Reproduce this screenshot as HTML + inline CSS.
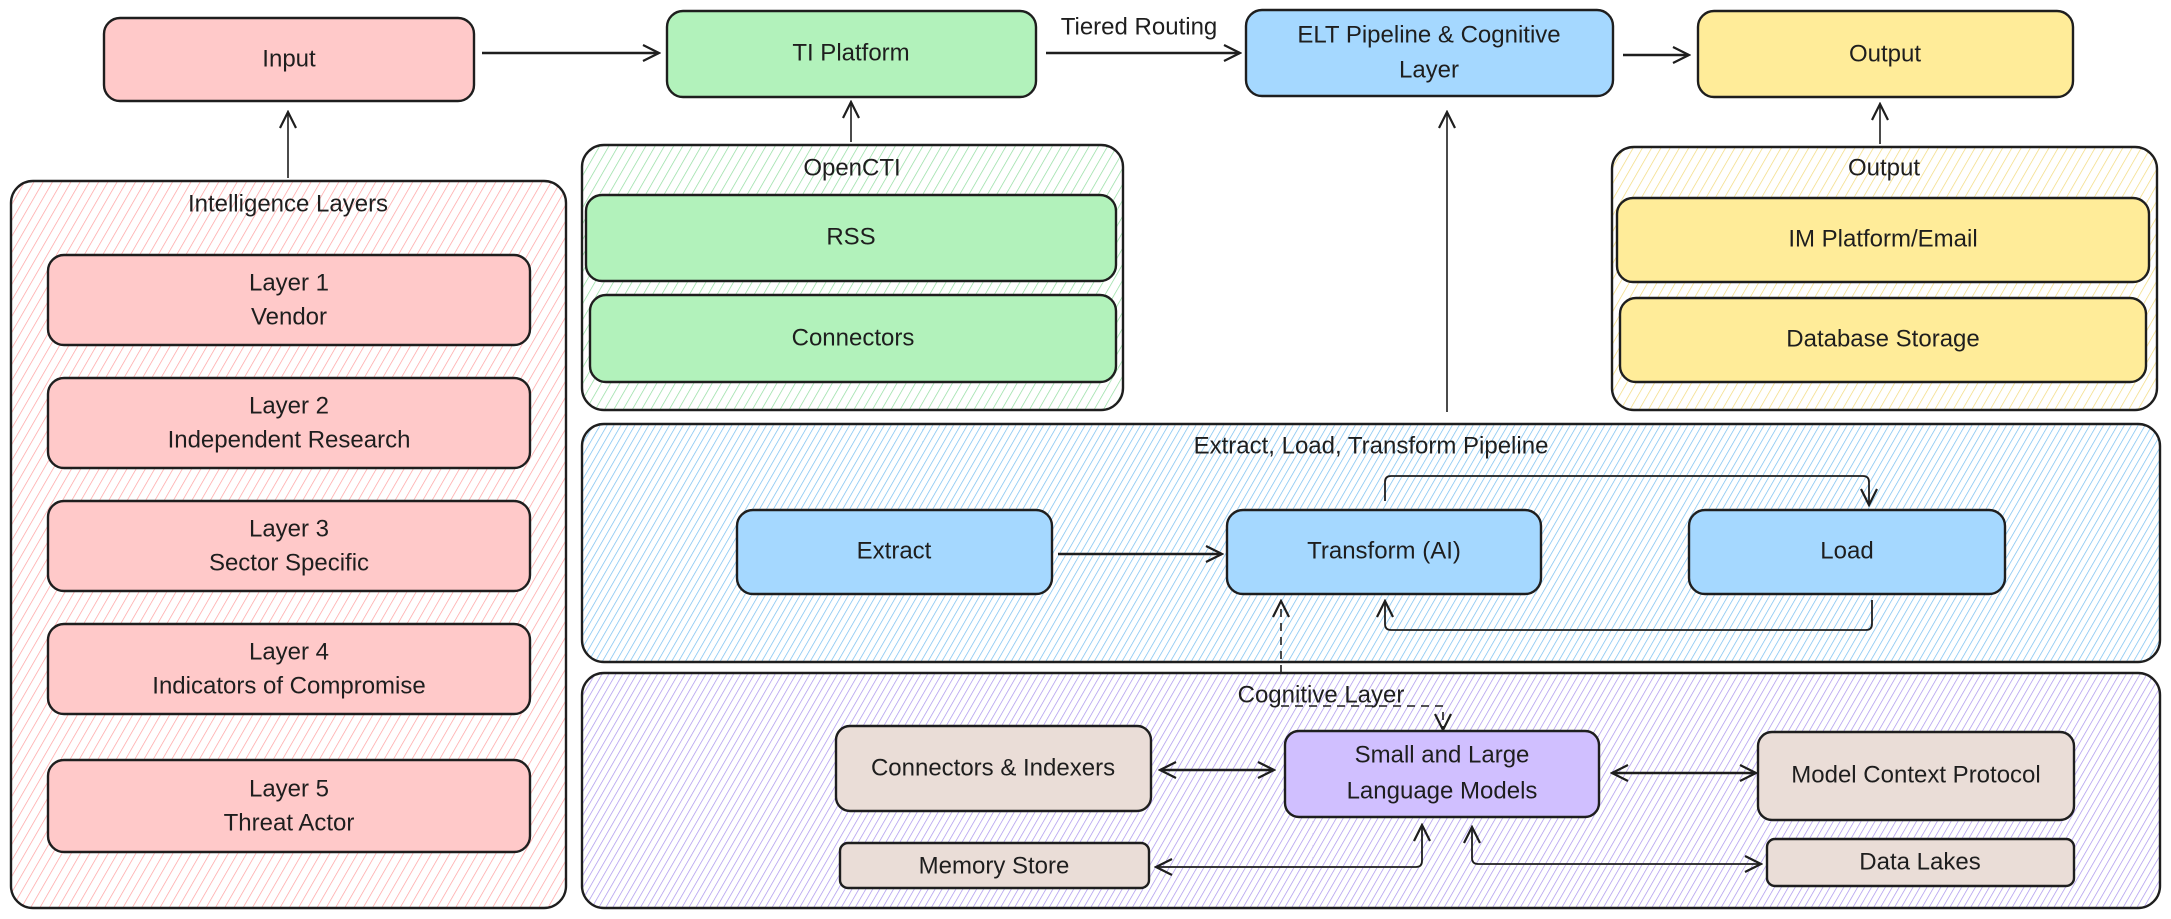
<!DOCTYPE html>
<html><head><meta charset="utf-8"><style>
html,body{margin:0;padding:0;background:#fff;}
svg{display:block;}
text{font-family:"Liberation Sans",sans-serif;font-size:24px;fill:#1e1e1e;text-anchor:middle;dominant-baseline:middle;}
</style></head><body>
<svg width="2171" height="919" viewBox="0 0 2171 919" xmlns="http://www.w3.org/2000/svg">
<defs>
<pattern id="hr" width="8" height="8" patternUnits="userSpaceOnUse" patternTransform="rotate(30)"><line x1="0" y1="0" x2="0" y2="8" stroke="#ff9f9f" stroke-width="1.4"/></pattern>
<pattern id="hg" width="8" height="8" patternUnits="userSpaceOnUse" patternTransform="rotate(30)"><line x1="0" y1="0" x2="0" y2="8" stroke="#8fdc9e" stroke-width="1.4"/></pattern>
<pattern id="hy" width="8" height="8" patternUnits="userSpaceOnUse" patternTransform="rotate(30)"><line x1="0" y1="0" x2="0" y2="8" stroke="#f2d97a" stroke-width="1.4"/></pattern>
<pattern id="hb" width="6" height="6" patternUnits="userSpaceOnUse" patternTransform="rotate(30)"><line x1="0" y1="0" x2="0" y2="6" stroke="#74bdf0" stroke-width="1.4"/></pattern>
<pattern id="hp" width="6" height="6" patternUnits="userSpaceOnUse" patternTransform="rotate(30)"><line x1="0" y1="0" x2="0" y2="6" stroke="#a892ec" stroke-width="1.4"/></pattern>
<marker id="a" viewBox="0 0 20 20" refX="18" refY="10" markerWidth="20" markerHeight="20" markerUnits="userSpaceOnUse" orient="auto-start-reverse"><path d="M2 2 L18 10 L2 18" fill="none" stroke="#1e1e1e" stroke-width="2.2"/></marker>
</defs>
<g stroke="#1e1e1e" stroke-width="2.4">
<rect x="11" y="181" width="555" height="727" rx="22" fill="url(#hr)"/>
<rect x="582" y="145" width="541" height="265" rx="22" fill="url(#hg)"/>
<rect x="1612" y="147" width="545" height="263" rx="22" fill="url(#hy)"/>
<rect x="582" y="424" width="1578" height="238" rx="22" fill="url(#hb)"/>
<rect x="582" y="673" width="1578" height="235" rx="22" fill="url(#hp)"/>
<rect x="104" y="18" width="370" height="83" rx="16" fill="#ffc9c9"/>
<rect x="667" y="11" width="369" height="86" rx="16" fill="#b2f2bb"/>
<rect x="1246" y="10" width="367" height="86" rx="16" fill="#a5d8ff"/>
<rect x="1698" y="11" width="375" height="86" rx="16" fill="#ffec99"/>
<rect x="48" y="255" width="482" height="90" rx="16" fill="#ffc9c9"/>
<rect x="48" y="378" width="482" height="90" rx="16" fill="#ffc9c9"/>
<rect x="48" y="501" width="482" height="90" rx="16" fill="#ffc9c9"/>
<rect x="48" y="624" width="482" height="90" rx="16" fill="#ffc9c9"/>
<rect x="48" y="760" width="482" height="92" rx="16" fill="#ffc9c9"/>
<rect x="586" y="195" width="530" height="86" rx="16" fill="#b2f2bb"/>
<rect x="590" y="295" width="526" height="87" rx="16" fill="#b2f2bb"/>
<rect x="1617" y="198" width="532" height="84" rx="16" fill="#ffec99"/>
<rect x="1620" y="298" width="526" height="84" rx="16" fill="#ffec99"/>
<rect x="737" y="510" width="315" height="84" rx="16" fill="#a5d8ff"/>
<rect x="1227" y="510" width="314" height="84" rx="16" fill="#a5d8ff"/>
<rect x="1689" y="510" width="316" height="84" rx="16" fill="#a5d8ff"/>
<rect x="836" y="726" width="315" height="85" rx="14" fill="#eaddd7"/>
<rect x="1285" y="731" width="314" height="86" rx="14" fill="#d0bfff"/>
<rect x="1758" y="732" width="316" height="88" rx="14" fill="#eaddd7"/>
<rect x="840" y="843" width="309" height="45" rx="8" fill="#eaddd7"/>
<rect x="1767" y="839" width="307" height="47" rx="8" fill="#eaddd7"/>
</g>
<g stroke="#1e1e1e" stroke-width="2.4" fill="none">
<path d="M482 53 L659 53" marker-end="url(#a)"/>
<path d="M1046 53 L1240 53" marker-end="url(#a)"/>
<path d="M1623 55 L1689 55" marker-end="url(#a)"/>
<path d="M288 178 L288 112" marker-end="url(#a)" stroke-width="1.6"/>
<path d="M851 142 L851 102" marker-end="url(#a)" stroke-width="1.6"/>
<path d="M1447 412 L1447 112" marker-end="url(#a)" stroke-width="1.6"/>
<path d="M1880 144 L1880 104" marker-end="url(#a)" stroke-width="1.6"/>
<path d="M1058 554 L1222 554" marker-end="url(#a)"/>
<path d="M1385 501 L1385 482 Q1385 476 1391 476 L1863 476 Q1869 476 1869 482 L1869 505" marker-end="url(#a)" stroke-width="1.8"/>
<path d="M1872 600 L1872 624 Q1872 630 1866 630 L1391 630 Q1385 630 1385 624 L1385 601" marker-end="url(#a)" stroke-width="1.8"/>
<path d="M1281 673 L1281 601" marker-end="url(#a)" stroke-width="1.6" stroke-dasharray="8 6"/>
<path d="M1281 706 L1443 706 L1443 730" marker-end="url(#a)" stroke-width="1.6" stroke-dasharray="8 6"/>
<path d="M1160 770 L1274 770" marker-start="url(#a)" marker-end="url(#a)" stroke-width="2.6"/>
<path d="M1612 773 L1756 773" marker-start="url(#a)" marker-end="url(#a)"/>
<path d="M1156 867 L1416 867 Q1422 867 1422 861 L1422 825" marker-start="url(#a)" marker-end="url(#a)" stroke-width="1.8"/>
<path d="M1472 827 L1472 858 Q1472 864 1478 864 L1761 864" marker-start="url(#a)" marker-end="url(#a)" stroke-width="1.8"/>
</g>
<text x="289" y="60">Input</text>
<text x="851" y="54">TI Platform</text>
<text x="1429" y="36">ELT Pipeline &amp; Cognitive</text>
<text x="1429" y="71">Layer</text>
<text x="1885" y="55">Output</text>
<text x="1139" y="28">Tiered Routing</text>
<text x="288" y="205">Intelligence Layers</text>
<text x="289" y="284">Layer 1</text><text x="289" y="318">Vendor</text>
<text x="289" y="407">Layer 2</text><text x="289" y="441">Independent Research</text>
<text x="289" y="530">Layer 3</text><text x="289" y="564">Sector Specific</text>
<text x="289" y="653">Layer 4</text><text x="289" y="687">Indicators of Compromise</text>
<text x="289" y="790">Layer 5</text><text x="289" y="824">Threat Actor</text>
<text x="852" y="169">OpenCTI</text>
<text x="851" y="238">RSS</text>
<text x="853" y="339">Connectors</text>
<text x="1884" y="169">Output</text>
<text x="1883" y="240">IM Platform/Email</text>
<text x="1883" y="340">Database Storage</text>
<text x="1371" y="447">Extract, Load, Transform Pipeline</text>
<text x="894" y="552">Extract</text>
<text x="1384" y="552">Transform (AI)</text>
<text x="1847" y="552">Load</text>
<text x="1321" y="696">Cognitive Layer</text>
<text x="993" y="769">Connectors &amp; Indexers</text>
<text x="1442" y="756">Small and Large</text>
<text x="1442" y="792">Language Models</text>
<text x="1916" y="776">Model Context Protocol</text>
<text x="994" y="867">Memory Store</text>
<text x="1920" y="863">Data Lakes</text>
</svg>
</body></html>
